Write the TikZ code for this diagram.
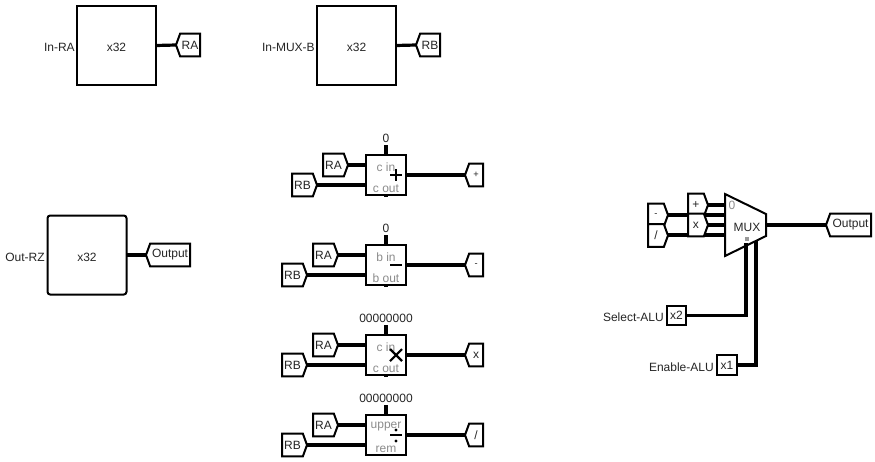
\documentclass[tikz,border=0pt]{standalone}
\usepackage{fontspec}
\setmainfont{Liberation Sans}
\usetikzlibrary{shapes.symbols,calc}
\tikzset{
  edge/.style={line width=1.5pt,draw=black},
  wire/.style={line width=2.4pt,draw=black,line cap=butt,line join=miter},
  txt/.style={inner sep=0pt,font=\fontsize{9}{10}\selectfont,text=black!85},
  grey/.style={txt,text=black!45},
  bigbox/.style={edge,fill=white,rectangle,minimum width=59.25pt,minimum height=59.25pt,inner sep=0pt,outer sep=0pt},
  opbox/.style={edge,fill=white,rectangle,minimum width=30pt,minimum height=30pt,inner sep=0pt,outer sep=0pt},
  pinbox/.style={edge,fill=white,rectangle,minimum width=14.5pt,minimum height=14.5pt,inner sep=0pt,outer sep=0pt,font=\fontsize{9}{10}\selectfont,text=black!85},
  tag/.style={signal,edge,fill=white,signal pointer angle=140,inner sep=0pt,outer sep=0pt,minimum height=17pt,font=\fontsize{9}{10}\selectfont,text=black!85},
  tagL/.style={tag,signal to=west,signal from=nowhere,anchor=west,xshift=-0.75pt},
  tagR/.style={tag,signal to=east,signal from=nowhere,anchor=east,xshift=0.75pt},
  tagw/.style={minimum width=#1*0.75pt},
  small/.style={font=\fontsize{7}{8}\selectfont},
  sym/.style={line width=1.6pt,line cap=butt}
}
\begin{document}
\begin{tikzpicture}[x=0.75pt,y=-0.75pt]
\useasboundingbox[fill=white] (0,0) rectangle (875,461);
% input registers
\node[bigbox] (regA) at (116.5,45.5) {};
\node[txt] (valA) at (116.5,47) {x32};
\node[txt,anchor=east] (lblA) at (75,47) {In-RA};
\node[tagL,tagw=24] (tagRAtop) at (177,45) {RA};
\draw[wire] (regA.east) -- (tagRAtop.west);
\node[bigbox] (regB) at (356.5,45.5) {};
\node[txt] (valB) at (356.5,47) {x32};
\node[txt,anchor=east] (lblB) at (315,47) {In-MUX-B};
\node[tagL,tagw=24] (tagRBtop) at (417,45) {RB};
\draw[wire] (regB.east) -- (tagRBtop.west);
\node[bigbox,rounded corners=2pt] (regZ) at (87,255) {};
\node[txt] (valZ) at (87,257) {x32};
\node[txt,anchor=east] (lblZ) at (45,257) {Out-RZ};
\node[tagL,tagw=44] (tagOutZ) at (147,255) {Output};
\draw[wire] (regZ.east) -- (tagOutZ.west);
% adder
\node[opbox] (add) at (386,175) {};
\node[grey] (addA) at (386,167) {c in};
\node[grey] (addB) at (386,188.5) {c out};
\node[txt] (addK) at (386,138) {0};
\node[tagR,tagw=25] (addRA) at (347,165) {RA};
\node[tagR,tagw=25] (addRB) at (316,185) {RB};
\node[tagL,tagw=18,small] (addO) at (466,175) {+};
\draw[wire] (addRA.east) -- (addRA.east -| add.west);
\draw[wire] (addRB.east) -- (addRB.east -| add.west);
\draw[wire] (add.east) -- (addO.west);
\draw[wire] (add.north) -- ++(0,-10);
\draw[wire] (add.south) -- ++(0,2);
\draw[sym] (390,175) -- (402,175) (396,169) -- (396,181);
% subtractor
\node[opbox] (sub) at (386,265) {};
\node[grey] (subA) at (386,257) {b in};
\node[grey] (subB) at (386,278.5) {b out};
\node[txt] (subK) at (386,228) {0};
\node[tagR,tagw=25] (subRA) at (337,255) {RA};
\node[tagR,tagw=25] (subRB) at (306,275) {RB};
\node[tagL,tagw=18,small] (subO) at (466,265) {-};
\draw[wire] (subRA.east) -- (subRA.east -| sub.west);
\draw[wire] (subRB.east) -- (subRB.east -| sub.west);
\draw[wire] (sub.east) -- (subO.west);
\draw[wire] (sub.north) -- ++(0,-10);
\draw[wire] (sub.south) -- ++(0,2);
\draw[sym] (390,265) -- (402,265);
% multiplier
\node[opbox] (mul) at (386,355) {};
\node[grey] (mulA) at (386,347) {c in};
\node[grey] (mulB) at (386,368.5) {c out};
\node[txt] (mulK) at (386,318) {00000000};
\node[tagR,tagw=25] (mulRA) at (337,345) {RA};
\node[tagR,tagw=25] (mulRB) at (306,365) {RB};
\node[tagL,tagw=18] (mulO) at (466,355) {x};
\draw[wire] (mulRA.east) -- (mulRA.east -| mul.west);
\draw[wire] (mulRB.east) -- (mulRB.east -| mul.west);
\draw[wire] (mul.east) -- (mulO.west);
\draw[wire] (mul.north) -- ++(0,-10);
\draw[wire] (mul.south) -- ++(0,2);
\draw[sym] (390,349) -- (402,361) (390,361) -- (402,349);
% divider
\node[opbox] (dvd) at (386,435) {};
\node[grey] (dvdA) at (386,427) {upper};
\node[grey] (dvdB) at (386,449) {rem};
\node[txt] (dvdK) at (386,398) {00000000};
\node[tagR,tagw=25] (dvdRA) at (337,425) {RA};
\node[tagR,tagw=25] (dvdRB) at (306,445) {RB};
\node[tagL,tagw=18] (dvdO) at (466,435) {/};
\draw[wire] (dvdRA.east) -- (dvdRA.east -| dvd.west);
\draw[wire] (dvdRB.east) -- (dvdRB.east -| dvd.west);
\draw[wire] (dvd.east) -- (dvdO.west);
\draw[wire] (dvd.north) -- ++(0,-10);
\draw[sym] (390,435) -- (402,435);
\fill (396,430) circle (1.6) (396,441) circle (1.6);
% multiplexer
\coordinate (muxIa) at (725,205);
\coordinate (muxIb) at (725,215);
\coordinate (muxIc) at (725,225);
\coordinate (muxId) at (725,235);
\coordinate (muxO) at (766,225);
\coordinate (muxS) at (746,243);
\coordinate (muxE) at (756,241);
\draw[wire] (665,215) -- (muxIb);
\draw[wire] (665,235) -- (muxId);
\node[tagR,tagw=20] (muxP) at (707,205) {+};
\node[tagR,tagw=20] (muxX) at (707,225) {x};
\node[tagR,tagw=20,small] (muxM) at (667,215) {-};
\node[tagR,tagw=20] (muxD) at (667,235.5) {/};
\draw[wire] (muxP.east) -- (muxIa);
\draw[wire] (muxX.east) -- (muxIc);
\draw[edge,fill=white,line join=miter] (725,194) -- (766,214) -- (766,236) -- (725,256) -- cycle;
\node[txt] (muxT) at (747,227) {MUX};
\node[grey] (mux0) at (732,205) {0};
\fill[black!40] (744.5,236.5) rectangle (749,241);
\node[tagL,tagw=45] (muxOut) at (827,225) {Output};
\draw[wire] (muxO) -- (muxOut.west);
\node[pinbox] (sel) at (676.5,315.5) {x2};
\node[txt,anchor=east] (selL) at (664,317) {Select-ALU};
\node[pinbox] (ena) at (727,365) {x1};
\node[txt,anchor=east] (enaL) at (714,367) {Enable-ALU};
\draw[wire] (sel.east) -| (muxS);
\draw[wire] (ena.east) -| (muxE);
\end{tikzpicture}
\end{document}
